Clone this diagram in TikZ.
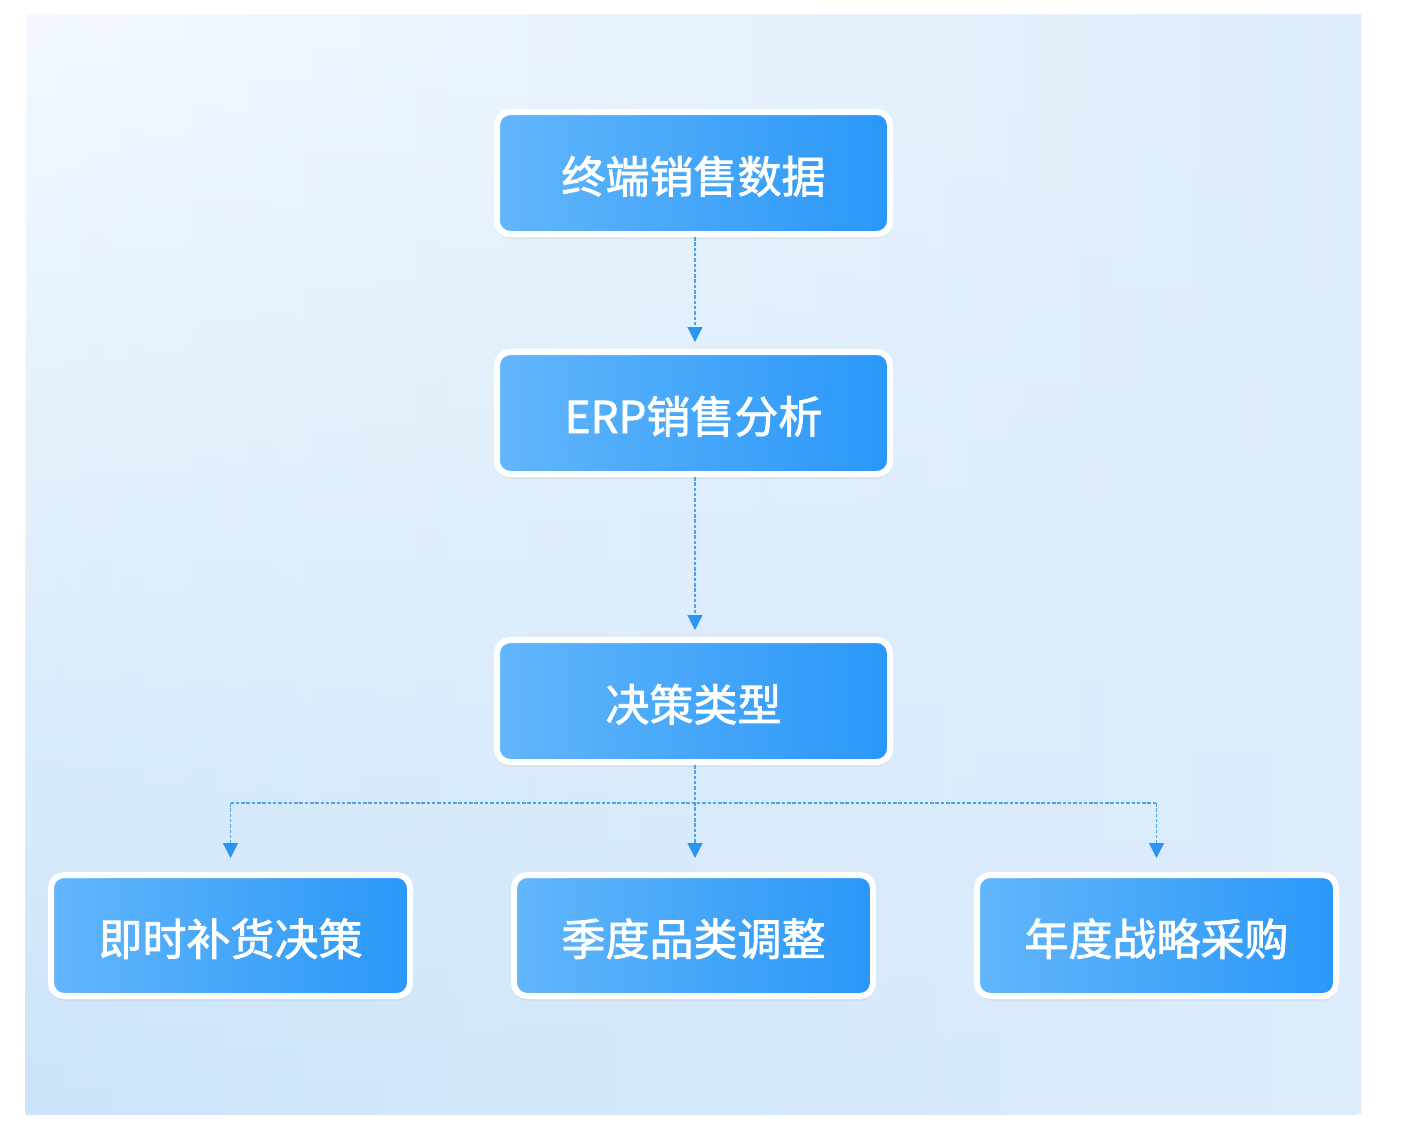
\documentclass[tikz,border=0pt]{standalone}
\usepackage{fontspec}
\newfontfamily\cjk[FakeBold=1.8]{Noto Sans CJK SC}
\usetikzlibrary{arrows.meta,shadows,fadings,calc}
\definecolor{bgTL}{HTML}{F3F9FE}
\definecolor{bgTR}{HTML}{DEEDFC}
\definecolor{bgBL}{HTML}{CBE4FA}
\definecolor{bgBR}{HTML}{DCECFB}
\definecolor{boxL}{HTML}{62B6FB}
\definecolor{boxM}{HTML}{52ACFA}
\definecolor{boxR}{HTML}{2A97F8}
\definecolor{lineC}{HTML}{4AA3F2}
\definecolor{tipC}{HTML}{2B95F2}
\newcommand{\boxtxt}[1]{\raisebox{-20pt}[0pt][0pt]{#1}}
\tikzset{
  flowbox/.style={draw=white, line width=6pt, rounded corners=13pt,
    left color=boxL, middle color=boxM, right color=boxR, shading angle=90,
    text=white, font=\cjk\fontsize{44}{48}\selectfont, inner sep=0pt,
    drop shadow={opacity=0.08, shadow xshift=0pt, shadow yshift=-5pt}},
  topbox/.style={flowbox, minimum width=393pt, minimum height=122pt},
  lowbox/.style={flowbox, minimum width=359pt, minimum height=121pt},
  conn/.style={draw=lineC, line width=1.2pt, dash pattern=on 3.5pt off 1.8pt,
    -{Triangle[width=15pt,length=15pt,fill=tipC,color=tipC]}},
  link/.style={draw=lineC, line width=1.2pt, dash pattern=on 3.5pt off 1.8pt}
}
\begin{document}
\begin{tikzpicture}[x=1pt,y=-1pt]
\useasboundingbox (0,0) rectangle (1408,1136);
\fill[white] (0,0) rectangle (1408,1136);
% background panel
\shade[left color=bgTL, right color=bgTR] (27,14) rectangle (1361,1113);
\shade[left color=bgBL, right color=bgBR, path fading=north] (27,14) rectangle (1361,1113);
% nodes
\node[topbox] (b1) at (693.5,173) {\boxtxt{终端销售数据}};
\node[topbox] (b2) at (693.5,413) {\boxtxt{ERP销售分析}};
\node[topbox] (b3) at (693.5,701) {\boxtxt{决策类型}};
\node[lowbox] (b4) at (230.5,935.5) {\boxtxt{即时补货决策}};
\node[lowbox] (b5) at (693.5,935.5) {\boxtxt{季度品类调整}};
\node[lowbox] (b6) at (1156.5,935.5) {\boxtxt{年度战略采购}};
\coordinate (j) at (695,803);
% connectors
\draw[conn, shorten >=7pt] ([xshift=1.5pt]b1.south) -- ([xshift=1.5pt]b2.north);
\draw[conn, shorten >=7pt] ([xshift=1.5pt]b2.south) -- ([xshift=1.5pt]b3.north);
\draw[conn, shorten >=14pt] ([xshift=1.5pt]b3.south) -- ([xshift=1.5pt]b5.north);
\draw[link] (b4.north |- j) -- (b6.north |- j);
\draw[conn, shorten >=14pt] (b4.north |- j) -- (b4.north);
\draw[conn, shorten >=14pt] (b6.north |- j) -- (b6.north);
\end{tikzpicture}
\end{document}
